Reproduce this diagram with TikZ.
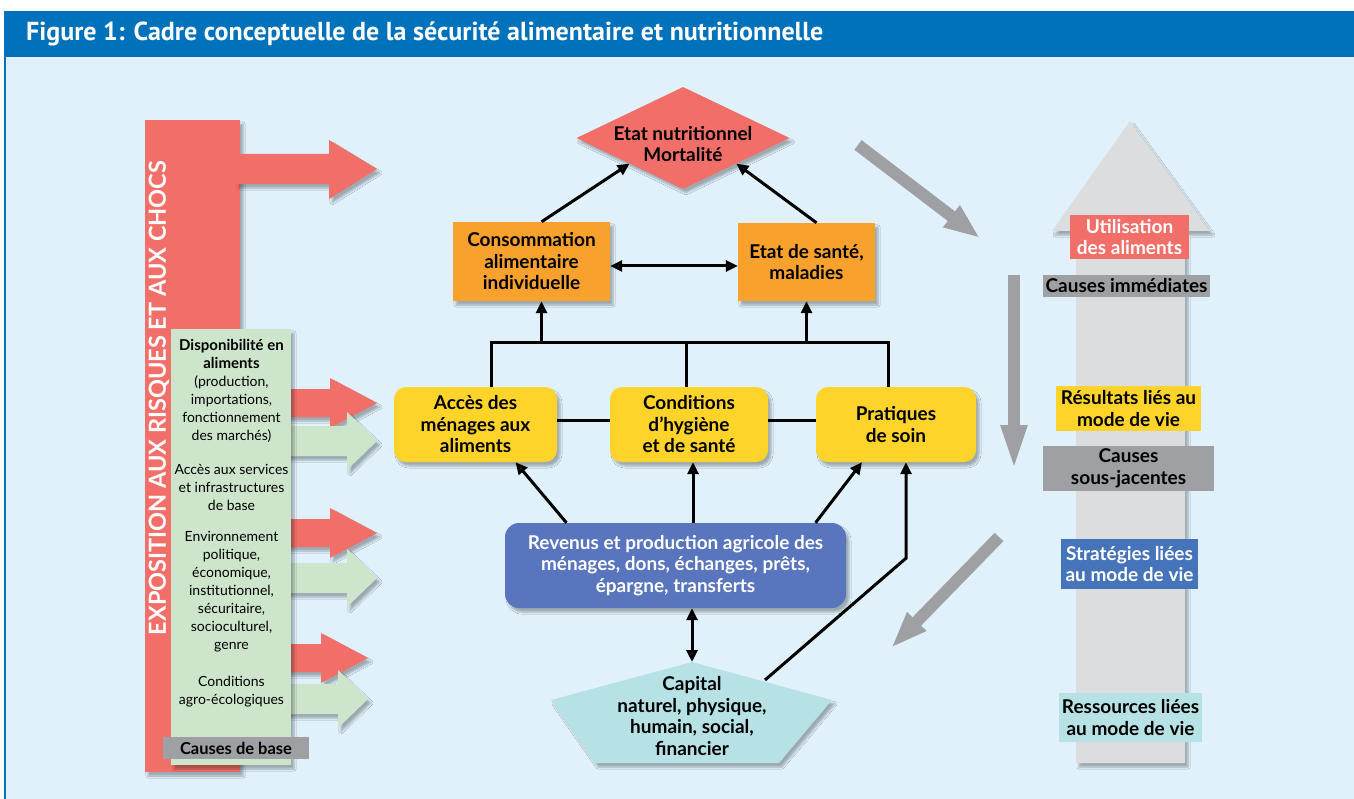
\documentclass[tikz,border=0pt]{standalone}
\usepackage{fontspec}
\setmainfont{Lato}
\newfontfamily\titlefont{PT Sans}
\usetikzlibrary{arrows.meta,positioning,shapes.geometric,calc,shadows.blur}

\definecolor{titleblue}{HTML}{0072BB}
\definecolor{paleblue}{HTML}{E0F1FB}
\definecolor{redc}{HTML}{F26F69}
\definecolor{greenc}{HTML}{CDE5CB}
\definecolor{orangec}{HTML}{F8A22D}
\definecolor{yellowc}{HTML}{FED32A}
\definecolor{bluec}{HTML}{5875BD}
\definecolor{stratblue}{HTML}{4674BA}
\definecolor{cyanc}{HTML}{B6E2E5}
\definecolor{grayc}{HTML}{9EA0A3}
\definecolor{lightgrayc}{HTML}{DCDDDF}

\begin{document}
\begin{tikzpicture}[
  x=1pt, y=-1pt,
  every node/.style={
    align=center,
    inner sep=0pt,
    font=\bfseries\fontsize{19}{21.5}\selectfont
  },
  shade/.style={blur shadow={shadow xshift=3pt, shadow yshift=-4pt, shadow opacity=30, shadow blur steps=6}},
  orangebox/.style={rectangle, fill=orangec, shade},
  yellowbox/.style={rectangle, rounded corners=12pt, fill=yellowc, shade, minimum height=75},
  tag/.style={rectangle, minimum height=22},
  paneltext/.style={font=\fontsize{14}{18}\selectfont},
  arrow/.style={-{Triangle[length=12pt,width=11pt]}, line width=3pt},
  dblarrow/.style={{Triangle[length=12pt,width=11pt]}-{Triangle[length=12pt,width=11pt]}, line width=3pt},
  link/.style={line width=3pt},
  grayarrow/.style={grayc, line width=12pt}
]

\useasboundingbox (0,0) rectangle (1354,799);
\fill[white] (0,0) rectangle (1354,799);
\fill[paleblue] (4,57) rectangle (1354,799);
\fill[titleblue] (4,11) rectangle (1354,57);
\draw[titleblue, line width=2pt] (5,57) -- (5,799);

\node[anchor=west, text=white, font=\titlefont\bfseries\fontsize{26}{30}\selectfont] (title) at (26,34)
  {Figure 1: Cadre conceptuelle de la sécurité alimentaire et nutritionnelle};

% exposition
\fill[redc, shade] (145,120) rectangle (240,772);
\fill[redc, shade] (236,154) -- (329,154) -- (329,140) -- (377,169) -- (329,199) -- (329,184) -- (236,184) -- cycle;
\foreach \col/\yc/\hs/\tip/\sh/\hh in {redc/403/330/377/14/25, greenc/441/347/377/15/29,
    redc/533/330/377/14/25, greenc/578/347/377/15/29,
    redc/658/321/368/14/25, greenc/699/338/368/15/29}
  \fill[\col, shade] (285,{\yc-\sh}) -- (\hs,{\yc-\sh}) -- (\hs,{\yc-\hh}) -- (\tip,\yc)
    -- (\hs,{\yc+\hh}) -- (\hs,{\yc+\sh}) -- (285,{\yc+\sh}) -- cycle;
\fill[greenc, shade] (171,329) rectangle (291,765);

\node[rotate=90, text=white, font=\bfseries\fontsize{23.5}{26}\selectfont] (expo) at (159,398)
  {EXPOSITION AUX RISQUES ET AUX CHOCS};

\node[paneltext] (dispo) at (231.5,391)
  {{\bfseries\fontsize{15}{18}\selectfont Disponibilité en}\\{\bfseries\fontsize{15}{18}\selectfont aliments}\\(production,\\importations,\\fonctionnement\\des marchés)};
\node[paneltext] (services) at (231.5,487) {Accès aux services\\et infrastructures\\de base};
\node[paneltext] (environ) at (231.5,592)
  {Environnement\\politique,\\économique,\\institutionnel,\\sécuritaire,\\socioculturel,\\genre};
\node[paneltext] (agro) at (231.5,692) {Conditions\\agro-écologiques};
\node[tag, fill=grayc, minimum width=146, font=\bfseries\fontsize{16.5}{19}\selectfont] (base) at (236,748) {Causes de base};

% cadre central
\node[diamond, fill=redc, aspect=2.09, minimum width=213, minimum height=102, shade] (nutri) at (683,138) {};
\node (nutritext) at (683,144) {Etat nutritionnel\\Mortalité};
\node[orangebox, minimum width=157, minimum height=79] (conso) at (531.5,261.5)
  {Consommation\\alimentaire\\individuelle};
\node[orangebox, minimum width=137, minimum height=78] (sante) at (806.5,262) {Etat de santé,\\maladies};

\node[yellowbox, minimum width=163] (acces) at (475.5,424.5) {Accès des\\ménages aux\\aliments};
\node[yellowbox, minimum width=158] (hygiene) at (689,424.5) {Conditions\\d’hygiène\\et de santé};
\node[yellowbox, minimum width=160] (soins) at (896,424.5) {Pratiques\\de soin};

\node[rectangle, rounded corners=14pt, fill=bluec, text=white, minimum width=341, minimum height=85, shade]
  (revenus) at (675.5,565.5)
  {Revenus et production agricole des\\ménages, dons, échanges, prêts,\\épargne, transferts};

\coordinate (captop) at (692,662);
\coordinate (capleft) at (551,700);
\coordinate (capright) at (832,700);
\coordinate (capline) at (765,680);
\fill[cyanc, shade] (captop) -- (capright) -- (779,763) -- (595,763) -- (capleft) -- cycle;
\node (capital) at (692,716) {Capital\\naturel, physique,\\humain, social,\\financier};

\draw[arrow] ($(conso.north)+(10,0)$) -- (nutri.south west);
\draw[arrow] ($(sante.north)+(10,0)$) -- (nutri.south east);
\draw[dblarrow] ([yshift=-4.5pt]conso.east) -- ([yshift=-4pt]sante.west);

\coordinate (brl) at (491,343);
\coordinate (brr) at (888,343);
\draw[link] ($(acces.north)+(15.5,0)$) -- (brl) -- (brr) -- ($(soins.north)+(-8,0)$);
\draw[link] (hygiene.north -| 686,0) -- (brl -| 686,0);
\draw[arrow] ($(conso.south)+(10,42)$) -- ($(conso.south)+(10,0)$);
\draw[arrow] ($(sante.south)+(0,42)$) -- (sante.south);
\draw[link] ([yshift=4pt]acces.east) -- ([yshift=4pt]hygiene.west);
\draw[link] ([yshift=4pt]hygiene.east) -- ([yshift=4pt]soins.west);

\draw[arrow] ($(revenus.north)+(-109,0)$) -- ($(acces.south)+(40,0)$);
\draw[arrow] ($(revenus.north)+(17.5,0)$) -- ($(hygiene.south)+(4,0)$);
\draw[arrow] ($(revenus.north)+(140,0)$) -- ($(soins.south)+(-34,0)$);
\draw[arrow] (capline) -- ($(soins.south)+(10,96)$) -- ($(soins.south)+(10,0)$);
\draw[dblarrow] (revenus.south -| captop) -- (captop);

% fleches grises
\draw[grayarrow, -{Triangle[length=36pt,width=25pt]}] (858,145) -- (980,238);
\draw[grayarrow, -{Triangle[length=37pt,width=24pt]}] (999,537) -- (891,648);
\draw[grayarrow, -{Triangle[length=48pt,width=23pt]}] (1014,275) -- (1014,473);

\fill[lightgrayc, shade] (1076,763) -- (1076,231) -- (1052,231) -- (1130,121) -- (1210,231)
  -- (1185,231) -- (1185,763) -- cycle;

\node[tag, fill=redc, text=white, minimum width=119, minimum height=44] (utilisation) at (1129.5,237)
  {Utilisation\\des aliments};
\node[tag, fill=grayc, minimum width=167] (immediates) at (1126.5,286) {Causes immédiates};
\node[tag, fill=yellowc, minimum width=145, minimum height=45] (resultats) at (1128.5,408.5)
  {Résultats liés au\\mode de vie};
\node[tag, fill=grayc, minimum width=171, minimum height=45] (sousjacentes) at (1128.5,468.5)
  {Causes\\sous-jacentes};
\node[tag, fill=stratblue, text=white, minimum width=137, minimum height=50] (strategies) at (1129.5,564)
  {Stratégies liées\\au mode de vie};
\node[tag, fill=cyanc, minimum width=143, minimum height=49] (ressources) at (1130.5,717.5)
  {Ressources liées\\au mode de vie};

\end{tikzpicture}
\end{document}
